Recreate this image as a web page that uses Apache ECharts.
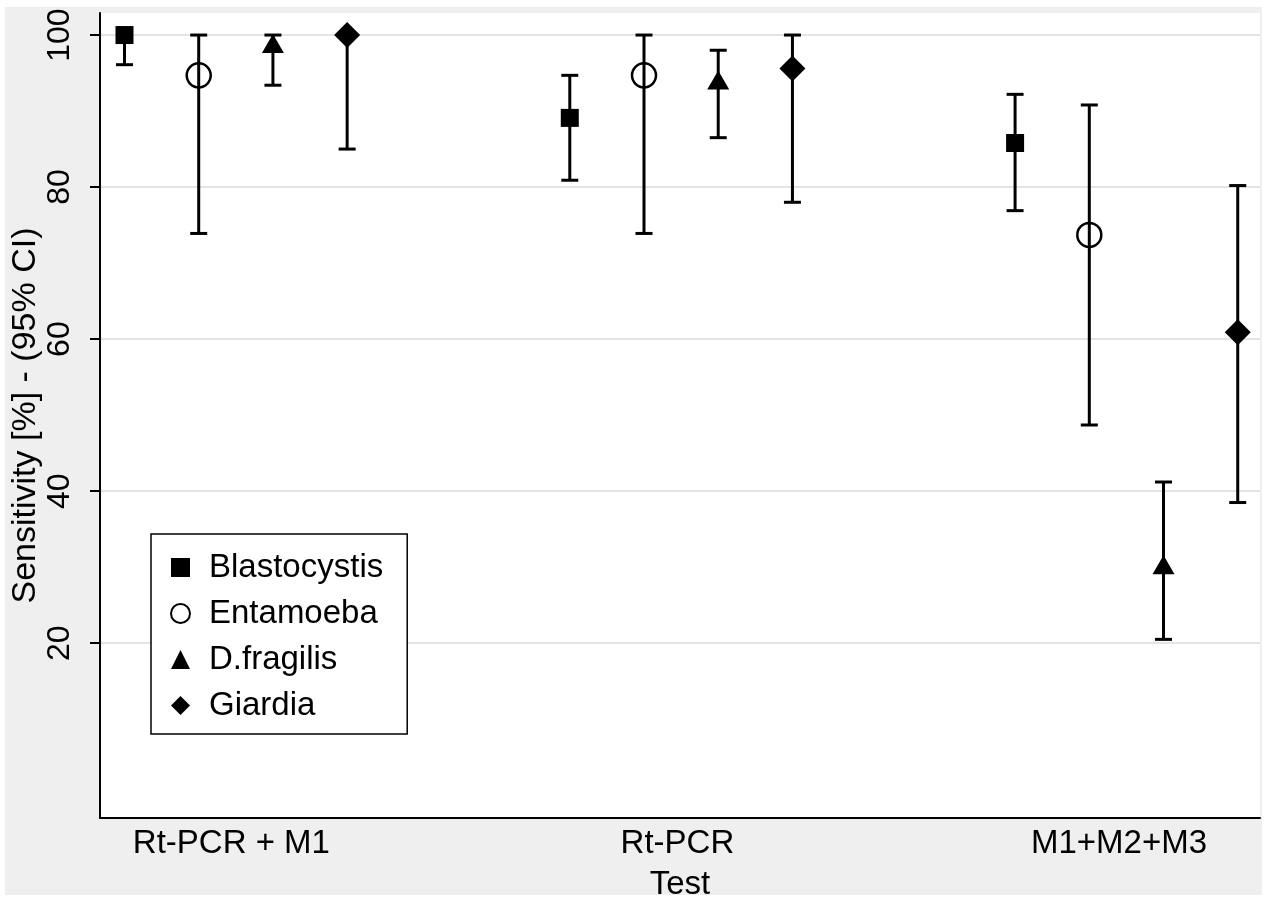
<!DOCTYPE html>
<html>
<head>
<meta charset="utf-8">
<script src="https://cdn.jsdelivr.net/npm/echarts@6/dist/echarts.min.js"></script>
<style>
  html, body { margin: 0; padding: 0; background: #fff; }
  #chart { position: absolute; left: 5px; top: 7px; width: 1257px; height: 888px; }
</style>
</head>
<body>
<div id="chart"></div>
<script>
var tests = ['Rt-PCR + M1', 'Rt-PCR', 'M1+M2+M3'];
var species = ['Blastocystis', 'Entamoeba', 'D.fragilis', 'Giardia'];

// sensitivity and 95% CI, one value per test
var blastocystis = [100, 89.1, 85.8];
var blastocystisLow = [96.1, 80.9, 76.9];
var blastocystisHigh = [100, 94.7, 92.2];

var entamoeba = [94.7, 94.7, 73.7];
var entamoebaLow = [73.9, 73.9, 48.7];
var entamoebaHigh = [100, 100, 90.8];

var dfragilis = [98.9, 94.1, 30.3];
var dfragilisLow = [93.4, 86.5, 20.5];
var dfragilisHigh = [100, 98.0, 41.2];

var giardia = [100, 95.6, 60.9];
var giardiaLow = [85.0, 78.0, 38.5];
var giardiaHigh = [100, 100, 80.2];

var yTicks = [20, 40, 60, 80, 100];
var testLabelPos = [1.44, 7.45, 13.4];

var values = [blastocystis, entamoeba, dfragilis, giardia];
var lows = [blastocystisLow, entamoebaLow, dfragilisLow, giardiaLow];
var highs = [blastocystisHigh, entamoebaHigh, dfragilisHigh, giardiaHigh];

var groupGap = 6;
var font = "'Liberation Sans', Arial, sans-serif";

var symbols = [
  { symbol: 'rect', size: 18, style: { color: '#000', opacity: 1 } },
  { symbol: 'circle', size: 24, style: { color: 'transparent', borderColor: '#000', borderWidth: 2.5, opacity: 1 } },
  { symbol: 'triangle', size: [22, 19], style: { color: '#000', opacity: 1 } },
  { symbol: 'diamond', size: [26, 26], style: { color: '#000', opacity: 1 } }
];

var ciData = [];
var series = [];
species.forEach(function (name, i) {
  var pts = [];
  tests.forEach(function (t, g) {
    var x = g * groupGap + i;
    pts.push([x, values[i][g]]);
    ciData.push([x, lows[i][g], highs[i][g]]);
  });
  series.push({
    name: name,
    type: 'scatter',
    symbol: symbols[i].symbol,
    symbolSize: symbols[i].size,
    itemStyle: symbols[i].style,
    z: 5,
    data: pts
  });
});

series.unshift({
  type: 'custom',
  z: 3,
  encode: { x: 0, y: [1, 2] },
  renderItem: function (params, api) {
    var x = api.value(0);
    var p1 = api.coord([x, api.value(1)]);
    var p2 = api.coord([x, api.value(2)]);
    var w = 8.5;
    var st = { stroke: '#000', lineWidth: 3 };
    return {
      type: 'group',
      children: [
        { type: 'line', shape: { x1: p1[0], y1: p1[1], x2: p2[0], y2: p2[1] }, style: st },
        { type: 'line', shape: { x1: p1[0] - w, y1: p1[1], x2: p1[0] + w, y2: p1[1] }, style: st },
        { type: 'line', shape: { x1: p2[0] - w, y1: p2[1], x2: p2[0] + w, y2: p2[1] }, style: st }
      ]
    };
  },
  data: ciData
});

var myChart = echarts.init(document.getElementById('chart'));
var option = {
  backgroundColor: '#efefef',
  animation: false,
  textStyle: { fontFamily: font },
  grid: {
    left: 95,
    right: 2,
    top: 6,
    bottom: 77,
    outerBoundsMode: 'none',
    show: true,
    backgroundColor: '#fff',
    borderWidth: 0
  },
  legend: {
    data: species,
    orient: 'vertical',
    left: 146,
    top: 527,
    padding: [17, 24, 12, 19],
    itemGap: 13,
    itemWidth: 19,
    itemHeight: 19,
    selectedMode: false,
    backgroundColor: '#fff',
    borderColor: '#000',
    borderWidth: 1.5,
    borderRadius: 0,
    textStyle: { fontSize: 33, color: '#000', fontFamily: font, padding: [0, 0, 0, 14] }
  },
  xAxis: {
    type: 'value',
    min: -0.33,
    max: 15.3,
    name: 'Test',
    nameLocation: 'middle',
    nameGap: 50,
    nameTextStyle: { fontSize: 33, color: '#000', fontFamily: font },
    axisLine: { show: true, onZero: false, lineStyle: { color: '#000', width: 2 } },
    axisTick: { show: false },
    splitLine: { show: false },
    axisLabel: {
      customValues: testLabelPos,
      fontSize: 33,
      color: '#000',
      margin: 9,
      formatter: function (v) {
        var idx = testLabelPos.indexOf(v);
        return idx >= 0 ? tests[idx] : '';
      }
    }
  },
  yAxis: {
    type: 'value',
    min: -3,
    max: 102.9,
    name: 'Sensitivity [%] - (95% CI)',
    nameLocation: 'middle',
    nameRotate: 90,
    nameGap: 57,
    nameMoveOverlap: false,
    nameTextStyle: { fontSize: 34, color: '#000', fontFamily: font },
    axisLine: { show: true, onZero: false, lineStyle: { color: '#000', width: 2 } },
    axisTick: { show: true, customValues: yTicks, length: 10, lineStyle: { color: '#000', width: 2 } },
    axisLabel: { customValues: yTicks, rotate: 90, fontSize: 32, color: '#000', margin: 24 },
    splitLine: { show: true, lineStyle: { color: '#e4e4e4', width: 2 } }
  },
  series: series
};
myChart.setOption(option);
</script>
</body>
</html>
